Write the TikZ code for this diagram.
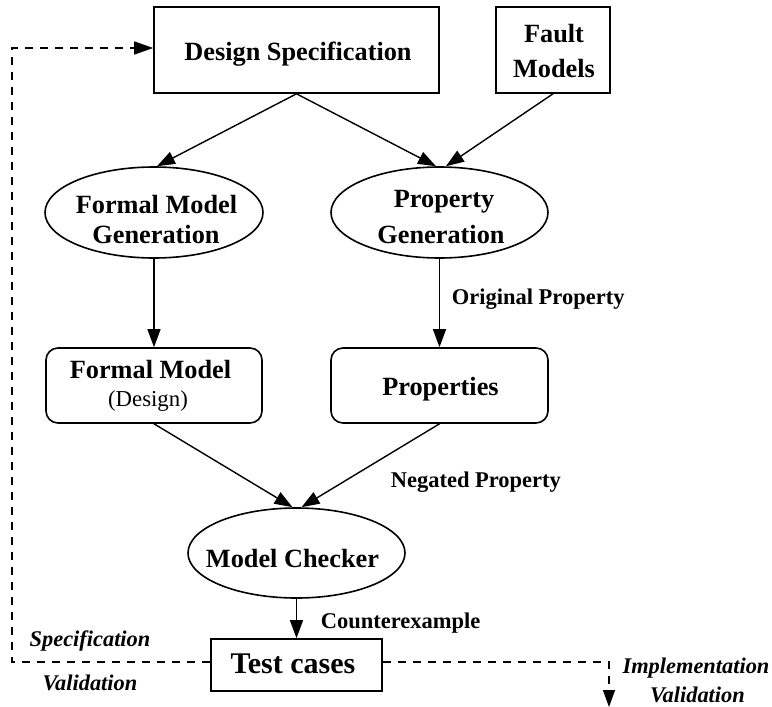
\documentclass[tikz,border=0pt]{standalone}
\usepackage{fontspec}
\setmainfont{Liberation Serif}
\usetikzlibrary{arrows.meta,shapes.geometric}
\begin{document}
\begin{tikzpicture}[x=1pt,y=-1pt,
  line width=1.6pt,
  shapebox/.style={draw, rectangle, inner sep=0pt},
  roundbox/.style={draw, rectangle, rounded corners=12pt, inner sep=0pt},
  oval/.style={draw, ellipse, inner sep=0pt},
  title/.style={font=\fontsize{26.3}{30}\selectfont\bfseries, inner sep=0pt, anchor=base},
  plain/.style={font=\fontsize{22.8}{27}\selectfont, inner sep=0pt, anchor=base},
  lab/.style={font=\fontsize{22.5}{27}\selectfont\bfseries, inner sep=0pt, anchor=base west},
  itlab/.style={font=\fontsize{22.4}{27}\selectfont\bfseries\itshape, inner sep=0pt, anchor=base},
  flow/.style={-{Triangle[length=18pt,width=13pt]}, line width=1.4pt},
  loop/.style={dash pattern=on 8pt off 7pt, line width=1.4pt}
]
\useasboundingbox (0,0) rectangle (772,707);

% shapes
\node[shapebox, minimum width=285pt, minimum height=86pt] (ds) at (296.5,50) {};
\node[shapebox, minimum width=114pt, minimum height=86pt] (fault) at (553,50) {};
\node[oval, minimum width=218pt, minimum height=91pt] (fmg) at (154,212.5) {};
\node[oval, minimum width=217pt, minimum height=91pt] (pg) at (439.5,212.5) {};
\node[roundbox, minimum width=216pt, minimum height=75pt] (fm) at (154,385.5) {};
\node[roundbox, minimum width=217pt, minimum height=75pt] (props) at (439.5,385.5) {};
\node[oval, minimum width=217pt, minimum height=90pt] (mc) at (296.5,553) {};
\node[shapebox, minimum width=171pt, minimum height=52pt] (tc) at (296.5,665) {};

% texts inside the shapes
\node[title] (dsT) at (298,60) {Design Specification};
\node[title] (faultT1) at (554,42) {Fault};
\node[title] (faultT2) at (554,77) {Models};
\node[title] (fmgT1) at (156.5,213) {Formal Model};
\node[title] (fmgT2) at (156,243) {Generation};
\node[title] (pgT1) at (444,207) {Property};
\node[title] (pgT2) at (441,243) {Generation};
\node[title] (fmT1) at (150.5,378) {Formal Model};
\node[plain] (fmT2) at (148,406) {(Design)};
\node[title] (propsT) at (440.5,395) {Properties};
\node[title] (mcT) at (292.5,567) {Model Checker};
\node[title, font=\fontsize{30}{34}\selectfont\bfseries] (tcT) at (293,673) {Test cases};

% edge labels
\node[lab] (origL) at (451,304) {Original Property};
\node[lab] (negL) at (390,487) {Negated Property};
\node[lab] (ceL) at (320,628) {Counterexample};
\node[itlab] (specL1) at (90,646) {Specification};
\node[itlab] (specL2) at (90,690) {Validation};
\node[itlab] (implL1) at (696,673) {Implementation};
\node[itlab] (implL2) at (697.5,702) {Validation};

% flow arrows
\draw[flow] (ds.south) -- ([xshift=3pt]fmg.north);
\draw[flow] (ds.south) -- ([xshift=-3.5pt]pg.north);
\draw[flow] (fault.south) -- ([xshift=6.5pt]pg.north);
\draw[flow] (fmg.south) -- (fm.north);
\draw[flow] (pg.south) -- (props.north);
\draw[flow] (fm.south) -- ([xshift=-4pt]mc.north);
\draw[flow] (props.south) -- ([xshift=5pt]mc.north);
\draw[flow] (mc.south) -- (tc.north);

% validation feedback lines
\coordinate (lb) at (12,662);
\coordinate (lt) at (12,48);
\coordinate (rc) at (609,662);
\coordinate (re) at (609,707);
\draw[loop, -{Triangle[length=19pt,width=13pt]}] (tc.west |- lb) -- (lb) -- (lt) -- (ds.west |- lt);
\draw[loop, -{Triangle[length=17pt,width=12pt]}] (tc.east |- rc) -- (rc) -- (re);
\end{tikzpicture}
\end{document}
